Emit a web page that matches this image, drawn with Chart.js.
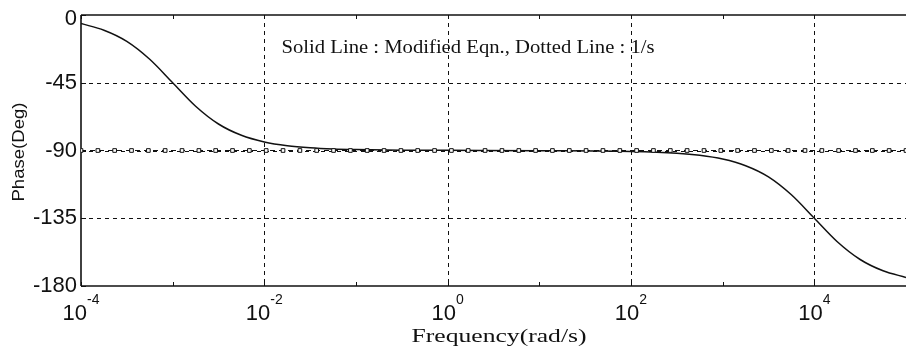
<!DOCTYPE html>
<html>
<head>
<meta charset="utf-8">
<script src="https://cdn.jsdelivr.net/npm/chart.js@4.4.1/dist/chart.umd.min.js"></script>
<style>body{margin:0;background:#fff}</style>
</head>
<body>
<canvas id="phaseChart" width="906" height="348"></canvas>
<script>
const ctx = document.getElementById('phaseChart')

// solid line: modified eqn (rad/s -> deg)
const freqs = [1e-4, 1.78e-4, 3.16e-4, 5.62e-4, 1e-3, 1.78e-3, 3.16e-3, 5.62e-3, 1e-2, 1.78e-2, 3.16e-2, 5.62e-2, 1e-1, 3.16e-1, 1, 10, 100, 316, 562, 1e3, 1.78e3, 3.16e3, 5.62e3, 1e4, 1.78e4, 3.16e4, 5.62e4, 1e5]
const phases = [-5.7, -10.1, -17.5, -29.4, -45, -60.6, -72.4, -79.9, -84.3, -86.8, -88.2, -89.0, -89.4, -89.8, -89.9, -90.1, -90.6, -91.8, -93.2, -95.7, -100.1, -107.5, -119.4, -135, -150.6, -162.4, -169.9, -174.3]

// dotted line: 1/s, markers (log10 of frequency)
const dotExp = [-4, -3.816, -3.633, -3.449, -3.265, -3.082, -2.898, -2.714, -2.531, -2.347,
  -2.163, -1.980, -1.796, -1.612, -1.429, -1.245, -1.061, -0.878, -0.694, -0.510,
  -0.327, -0.143, 0.041, 0.224, 0.408, 0.592, 0.776, 0.959, 1.143, 1.327,
  1.510, 1.694, 1.878, 2.061, 2.245, 2.429, 2.612, 2.796, 2.980, 3.163,
  3.347, 3.531, 3.714, 3.898, 4.082, 4.265, 4.449, 4.633, 4.816, 5]
const dotPhase = -90

const decades = [-4, -3, -2, -1, 0, 1, 2, 3, 4, 5]
const xLabelExp = [-4, -2, 0, 2, 4]
const xGridExp = [-2, 0, 2, 4]
const yTicks = [0, -45, -90, -135, -180]
const yGrid = [-45, -90, -135]

const note = 'Solid Line : Modified Eqn., Dotted Line : 1/s'

let solid = freqs.map((f, i) => ({ x: f, y: phases[i] }))
let dotted = dotExp.map((e) => ({ x: Math.pow(10, e), y: dotPhase }))

function line(c, x1, y1, x2, y2) {
  c.beginPath()
  c.moveTo(x1, y1)
  c.lineTo(x2, y2)
  c.stroke()
}

// text squeezed/stretched to a width seen in the picture
function fitText(c, txt, cx, by, w) {
  const m = c.measureText(txt).width
  c.save()
  c.translate(cx, by)
  c.scale(w / m, 1)
  c.textAlign = 'center'
  c.fillText(txt, 0, 0)
  c.restore()
}

const frame = {
  id: 'frame',
  beforeDatasetsDraw(chart) {
    const c = chart.ctx
    const a = chart.chartArea
    const x = chart.scales.x
    const y = chart.scales.y
    c.save()
    c.strokeStyle = '#111'
    c.lineWidth = 1
    c.setLineDash([4, 4])
    xGridExp.forEach((e) => {
      const px = Math.round(x.getPixelForValue(Math.pow(10, e))) + 0.5
      line(c, px, a.top, px, a.bottom)
    })
    yGrid.forEach((v) => {
      const py = Math.round(y.getPixelForValue(v)) + 0.5
      line(c, a.left, py, a.right, py)
    })
    c.setLineDash([])
    // small inner ticks
    decades.forEach((e) => {
      const px = Math.round(x.getPixelForValue(Math.pow(10, e))) + 0.5
      line(c, px, a.bottom, px, a.bottom - 4)
      line(c, px, a.top, px, a.top + 4)
    })
    yTicks.forEach((v) => {
      const py = Math.round(y.getPixelForValue(v)) + 0.5
      line(c, a.left, py, a.left + 5, py)
    })
    c.lineWidth = 1.6
    line(c, a.left, a.top, a.right, a.top)
    line(c, a.left, a.top, a.left, a.bottom)
    line(c, a.left, a.bottom, a.right, a.bottom)
    c.restore()
  },
  afterDraw(chart) {
    const c = chart.ctx
    const x = chart.scales.x
    const y = chart.scales.y
    c.save()
    c.fillStyle = '#111'
    // y tick labels
    c.font = '22px "Liberation Sans"'
    c.textAlign = 'right'
    c.textBaseline = 'middle'
    yTicks.forEach((v) => {
      let py = y.getPixelForValue(v)
      if (v === 0) py += 4
      c.fillText(String(v), 77, py)
    })
    // x tick labels 10^n
    c.textAlign = 'left'
    c.textBaseline = 'alphabetic'
    xLabelExp.forEach((e) => {
      const px = x.getPixelForValue(Math.pow(10, e))
      c.font = '22px "Liberation Sans"'
      const wBase = c.measureText('10').width
      c.font = '14px "Liberation Sans"'
      const wExp = c.measureText(String(e)).width
      const start = px - (wBase + wExp) / 2
      c.font = '22px "Liberation Sans"'
      c.fillText('10', start, 320)
      c.font = '14px "Liberation Sans"'
      c.fillText(String(e), start + wBase, 304)
    })
    // titles
    c.font = '18px "Liberation Serif"'
    fitText(c, 'Frequency(rad/s)', 499, 342, 175)
    fitText(c, note, 468, 53, 373)
    c.font = '17px "Liberation Sans"'
    c.save()
    c.translate(24, 152)
    c.rotate(-Math.PI / 2)
    fitText(c, 'Phase(Deg)', 0, 0, 99)
    c.restore()
    c.restore()
  }
}

const chart = new Chart(ctx, {
  type: 'line',
  data: {
    datasets: [{
      label: '1/s',
      data: dotted,
      borderColor: '#111',
      borderWidth: 1.1,
      borderDash: [5, 4],
      pointStyle: 'rect',
      pointRadius: 2.6,
      pointBackgroundColor: '#fff',
      pointBorderColor: '#111',
      pointBorderWidth: 1
    }, {
      label: 'Modified Eqn.',
      data: solid,
      borderColor: '#111',
      borderWidth: 1.5,
      pointRadius: 0,
      cubicInterpolationMode: 'monotone'
    }]
  },
  options: {
    responsive: false,
    animation: false,
    layout: { autoPadding: false, padding: { left: 81, top: 15, right: 0, bottom: 62 } },
    plugins: { legend: { display: false }, tooltip: { enabled: false } },
    scales: {
      x: {
        type: 'logarithmic',
        min: 1e-4,
        max: 1e5,
        ticks: { display: false },
        grid: { display: false, drawTicks: false },
        border: { display: false }
      },
      y: {
        min: -180,
        max: 0,
        ticks: { display: false, stepSize: 45 },
        grid: { display: false, drawTicks: false },
        border: { display: false }
      }
    }
  },
  plugins: [frame]
})
</script>
</body>
</html>
